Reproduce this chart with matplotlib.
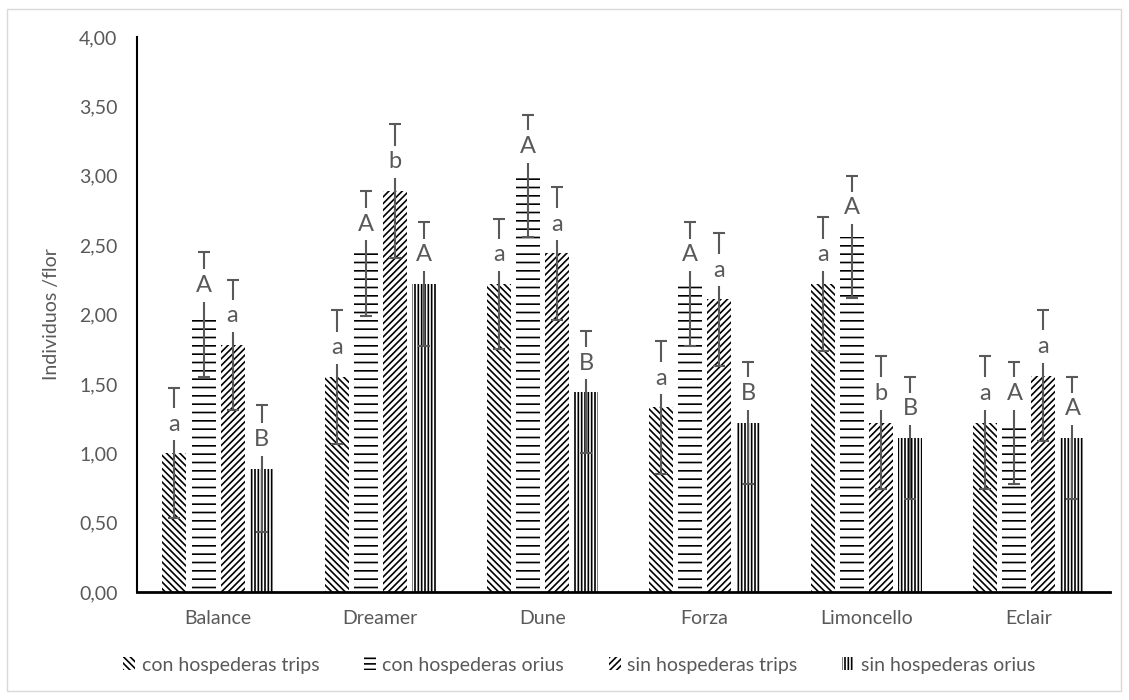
import numpy as np
import matplotlib.pyplot as plt
from matplotlib.patches import Patch, Rectangle

plt.rcParams['font.family'] = ['Lato', 'DejaVu Sans']
plt.rcParams['hatch.linewidth'] = 1.2

variedades = ['Balance', 'Dreamer', 'Dune', 'Forza', 'Limoncello', 'Eclair']
series = ['con hospederas trips', 'con hospederas orius',
          'sin hospederas trips', 'sin hospederas orius']

# medias de individuos por flor
con_trips = [1.00, 1.55, 2.22, 1.33, 2.22, 1.22]
con_orius = [2.00, 2.44, 3.00, 2.22, 2.56, 1.22]
sin_trips = [1.78, 2.89, 2.44, 2.11, 1.22, 1.56]
sin_orius = [0.89, 2.22, 1.44, 1.22, 1.11, 1.11]

# error estandar
err_con_trips = [0.47, 0.48, 0.47, 0.48, 0.48, 0.48]
err_con_orius = [0.45, 0.45, 0.44, 0.45, 0.44, 0.44]
err_sin_trips = [0.47, 0.48, 0.48, 0.48, 0.48, 0.47]
err_sin_orius = [0.46, 0.45, 0.44, 0.44, 0.44, 0.44]

# letras de significancia
let_con_trips = ['a', 'a', 'a', 'a', 'a', 'a']
let_con_orius = ['A', 'A', 'A', 'A', 'A', 'A']
let_sin_trips = ['a', 'b', 'a', 'a', 'b', 'a']
let_sin_orius = ['B', 'A', 'B', 'B', 'B', 'A']

valores = [con_trips, con_orius, sin_trips, sin_orius]
errores = [err_con_trips, err_con_orius, err_sin_trips, err_sin_orius]
letras = [let_con_trips, let_con_orius, let_sin_trips, let_sin_orius]
tramas = ['\\' * 5, '--', '/' * 5, '|' * 5]
tramas_leyenda = ['\\' * 5, '---', '/' * 5, '|' * 5]

gris = '#595959'

fig = plt.figure(figsize=(11.29, 7), dpi=100)
ax = fig.add_axes([0.1213, 0.1543, 0.9832 - 0.1213, 0.9471 - 0.1543])

x = np.arange(len(variedades))
paso = 0.179
ancho = 0.148

for i in range(4):
    xi = x + (i - 1.5) * paso
    ax.bar(xi, valores[i], width=ancho, color='white', edgecolor='black',
           linewidth=0, hatch=tramas[i], zorder=2)
    ax.errorbar(xi, valores[i], yerr=errores[i], fmt='none', ecolor=gris,
                elinewidth=1.5, capsize=4.5, capthick=1.5, zorder=3)
    for xx, v, l in zip(xi, valores[i], letras[i]):
        ax.text(xx, v + 0.21, l, ha='center', va='center', fontsize=17,
                color=gris, zorder=4,
                bbox=dict(facecolor='white', edgecolor='none', pad=4.0))

ax.set_xlim(-0.5, len(variedades) - 0.5)
ax.set_ylim(0, 4)
ax.set_yticks(np.arange(0, 4.01, 0.5))
ax.set_yticklabels([f'{v:.2f}'.replace('.', ',') for v in np.arange(0, 4.01, 0.5)])
ax.set_xticks(x)
ax.set_xticklabels(variedades)
ax.tick_params(axis='both', length=0, labelsize=14, labelcolor=gris)
ax.tick_params(axis='x', pad=13)
ax.tick_params(axis='y', pad=14)
ax.set_ylabel('Individuos /flor', fontsize=14, color=gris, labelpad=14)

for lado in ['top', 'right']:
    ax.spines[lado].set_visible(False)
ax.spines['left'].set_linewidth(1.5)
ax.spines['bottom'].set_linewidth(2)

handles = [Patch(facecolor='white', edgecolor='black', linewidth=0, hatch=t)
           for t in tramas_leyenda]
fig.legend(handles, series, loc='center', bbox_to_anchor=(0.513, 0.05), ncol=4,
           frameon=False, fontsize=14, labelcolor=gris, handlelength=0.6,
           handleheight=0.6, handletextpad=0.35, columnspacing=2.3)

# marco exterior del grafico
fig.patches.append(Rectangle((7 / 1129, 9 / 700), 1114 / 1129, 682 / 700,
                             transform=fig.transFigure, fill=False,
                             edgecolor='#d9d9d9', linewidth=1))

fig.savefig('out.png', dpi=100)
